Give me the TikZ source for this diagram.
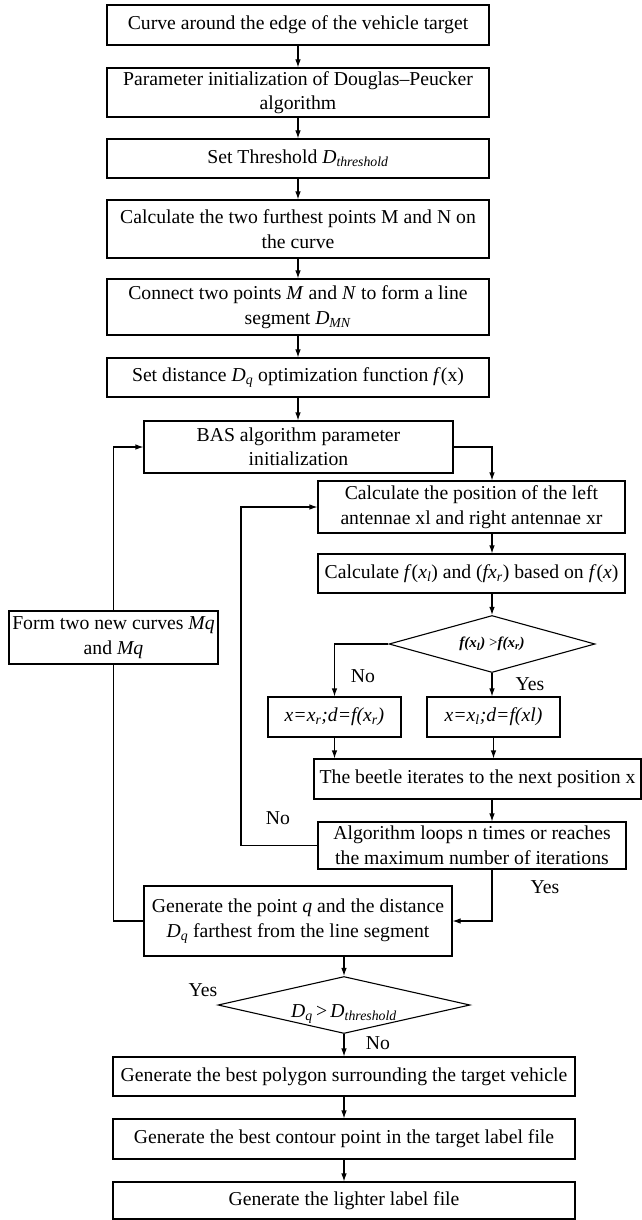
\documentclass[tikz,border=0pt]{standalone}
\usepackage{fontspec}
\setmainfont{Liberation Serif}
\usetikzlibrary{shapes.geometric,arrows.meta}

\newcommand{\isub}[1]{\textsubscript{\textit{#1}}}

\begin{document}
\begin{tikzpicture}[
		x=1pt, y=-1pt,
		line width=1.1pt,
		>={Latex[length=8pt,width=5.5pt]},
		every node/.style={font=\fontsize{19.7}{24.5}\selectfont, inner sep=1pt},
		box/.style={rectangle, draw, align=center},
		decision/.style={diamond, draw, inner sep=0pt, aspect=4},
		tag/.style={draw=none}
	]
  \useasboundingbox (0,0) rectangle (642,1220);
  \node (curve) [box, minimum width=382pt, minimum height=40pt] at (298, 25) {Curve around the edge of the vehicle target};
  \node (init) [box, minimum width=382pt, minimum height=49pt] at (298, 92.5) {Parameter initialization of Douglas--Peucker\\algorithm};
  \node (thresh) [box, minimum width=382pt, minimum height=39pt] at (298, 158.5) {Set Threshold \textit{D}\isub{threshold}};
  \node (furthest) [box, minimum width=382pt, minimum height=58pt] at (298, 229) {Calculate the two furthest points M and N on\\the curve};
  \node (connect) [box, minimum width=382pt, minimum height=56pt] at (298, 307) {Connect two points \textit{M} and \textit{N} to form a line\\segment \textit{D}\isub{MN}};
  \node (setdist) [box, minimum width=382pt, minimum height=39pt] at (298, 377.5) {Set distance \textit{D}\isub{q} optimization function \textit{f}(x)};
  \node (bas) [box, minimum width=309pt, minimum height=52pt] at (298.5, 447) {BAS algorithm parameter\\initialization};
  \node (antenna) [box, minimum width=307pt, minimum height=52pt] at (471.5, 507) {Calculate the position of the left\\antennae xl and right antennae xr};
  \node (fcalc) [box, minimum width=307pt, minimum height=39pt] at (471.5, 573.5) {Calculate \textit{f}(\textit{x}\isub{l}) and (\textit{fx}\isub{r}) based on \textit{f}(\textit{x})};
  \node (cmp) [decision, minimum width=206pt, minimum height=57pt, font=\fontsize{15}{17}\selectfont\bfseries\itshape] at (492, 644) {f(x\textsubscript{l}) {\normalfont>}f(x\textsubscript{r})};
  \node (xr) [box, minimum width=133pt, minimum height=40pt] at (334.5, 717) {\textit{x=x\textsubscript{r};d=f(x\textsubscript{r})}};
  \node (xl) [box, minimum width=133pt, minimum height=40pt] at (493.5, 717) {\textit{x=x\textsubscript{l};d=f(xl)}};
  \node (beetle) [box, minimum width=327pt, minimum height=40pt] at (477.5, 779) {The beetle iterates to the next position x};
  \node (loop) [box, minimum width=308pt, minimum height=47pt] at (472, 845.5) {Algorithm loops n times or reaches\\the maximum number of iterations};
  \node (genq) [box, minimum width=308pt, minimum height=70pt] at (298, 921) {Generate the point \textit{q} and the distance\\\textit{D}\isub{q} farthest from the line segment};
  \node (thr) [decision, minimum width=252pt, minimum height=57pt,
    label={[yshift=-9pt]center:\textit{D}\isub{q}\,>\,\textit{D}\isub{threshold}}] at (344, 1005) {};
  \node (polygon) [box, minimum width=462pt, minimum height=39pt] at (344, 1076.5) {Generate the best polygon surrounding the target vehicle};
  \node (contour) [box, minimum width=462pt, minimum height=40pt] at (344, 1139) {Generate the best contour point in the target label file};
  \node (lighter) [box, minimum width=462pt, minimum height=37pt] at (344, 1200.5) {Generate the lighter label file};
  \node (form) [box, minimum width=209pt, minimum height=53pt] at (113.5, 637.5) {Form two new curves \textit{Mq}\\and \textit{Mq}};
  \node (no_cmp) [tag] at (363, 676) {No};
  \node (yes_cmp) [tag] at (530, 684) {Yes};
  \node (no_loop) [tag] at (278, 818) {No};
  \node (yes_loop) [tag] at (545, 887) {Yes};
  \node (yes_thr) [tag] at (203, 990) {Yes};
  \node (no_thr) [tag] at (378, 1043) {No};
  \coordinate (inner_bend) at (241, 845.5);
  \draw[->] (curve) -- (init);
  \draw[->] (init) -- (thresh);
  \draw[->] (thresh) -- (furthest);
  \draw[->] (furthest) -- (connect);
  \draw[->] (connect) -- (setdist);
  \draw[->] (setdist.south) -- (setdist.south |- bas.north);
  \draw[->] (bas.east) -| (cmp.north |- antenna.north);
  \draw[->] (antenna.south -| cmp) -- (fcalc.north -| cmp);
  \draw[->] (fcalc.south -| cmp) -- (cmp.north);
  \draw[->] (cmp.west) -| (xr.north);
  \draw[->] (cmp.south) -- (cmp.south |- xl.north);
  \draw[->] (xr.south) -- (xr.south |- beetle.north);
  \draw[->] (xl.south) -- (xl.south |- beetle.north);
  \draw[->] (beetle.south -| cmp) -- (loop.north -| cmp);
  \draw[->] (loop.west) -- (inner_bend) |- (antenna.west);
  \draw[->] (loop.south -| cmp) |- (genq.east);
  \draw (genq.west) -| (form.south);
  \draw[->] (form.north) |- (bas.west);
  \draw[->] (genq.south -| thr) -- (thr.north);
  \draw[->] (thr.south) -- (polygon.north);
  \draw[->] (polygon) -- (contour);
  \draw[->] (contour) -- (lighter);
\end{tikzpicture}
\end{document}
